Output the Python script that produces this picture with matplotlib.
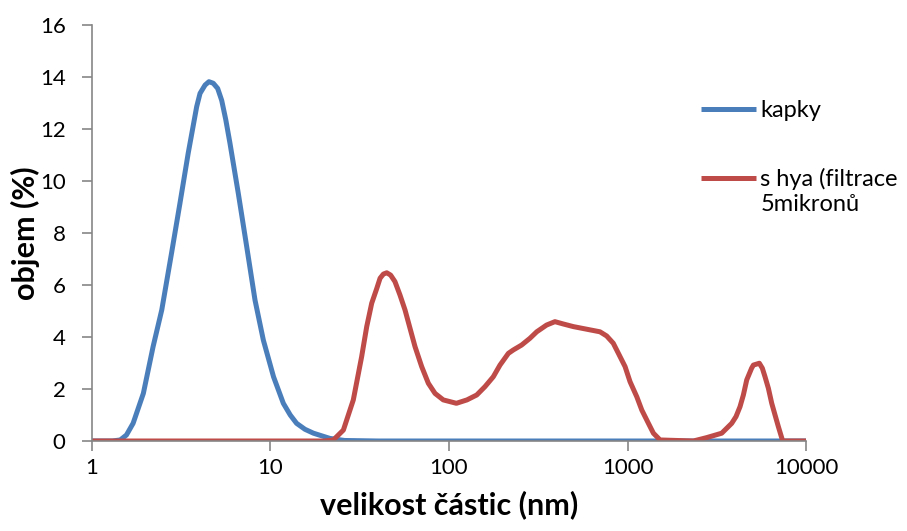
import numpy as np
import matplotlib.pyplot as plt
import matplotlib.ticker as ticker

plt.rcParams['font.family'] = ['Lato', 'DejaVu Sans']

# kapky (blue)
kapky_x = [1, 1.3, 1.44, 1.56, 1.70, 1.94, 2.20, 2.46, 2.79, 3.11, 3.46, 3.86, 4.03,
           4.30, 4.52, 4.78, 5.06, 5.33, 5.62, 5.93, 6.60, 7.36, 8.19, 9.12, 10.4,
           11.8, 12.9, 14.0, 15.6, 17.4, 21.5, 26, 40, 100, 1000, 10000]
kapky_y = [0, 0, 0.04, 0.23, 0.68, 1.83, 3.63, 5.04, 7.22, 9.14, 11.07, 12.86, 13.37,
           13.69, 13.82, 13.76, 13.56, 13.1, 12.35, 11.45, 9.53, 7.47, 5.42, 3.88, 2.47,
           1.45, 1.0, 0.68, 0.45, 0.30, 0.10, 0.02, 0, 0, 0, 0]

# s hya (red)
hya_x = [1, 10, 20, 22.5, 25.6, 29.1, 32.4, 34.6, 36.9, 39.4, 41.1, 42.9, 44.8, 47.1,
         49.8, 53.1, 56.7, 60.5, 64.5, 70.3, 76.6, 83.5, 92.9, 110, 126, 143, 159, 177,
         193, 215, 229, 255, 284, 310, 352, 392, 437, 497, 590, 701, 764, 832, 889,
         969, 1033, 1127, 1202, 1309, 1396, 1521, 2337, 2776, 3370, 3834, 4053, 4267,
         4456, 4653, 4955, 5070, 5474, 5690, 5891, 6150, 6423, 6703, 6998, 7397, 10000]
hya_y = [0, 0, 0, 0.04, 0.42, 1.58, 3.24, 4.40, 5.30, 5.87, 6.26, 6.42, 6.47, 6.38,
         6.13, 5.62, 5.04, 4.33, 3.63, 2.86, 2.22, 1.83, 1.58, 1.45, 1.58, 1.77, 2.09,
         2.47, 2.92, 3.37, 3.50, 3.69, 3.95, 4.20, 4.46, 4.59, 4.50, 4.40, 4.30, 4.20,
         4.04, 3.76, 3.37, 2.86, 2.28, 1.70, 1.19, 0.68, 0.30, 0.04, 0, 0.13, 0.30,
         0.68, 0.94, 1.32, 1.77, 2.35, 2.80, 2.92, 2.99, 2.80, 2.47, 2.03, 1.45, 1.0,
         0.55, 0, 0]

blue = '#4A7EBB'
red = '#BE4B48'
grey = '#868686'

fig = plt.figure(figsize=(9.07, 5.31), dpi=100)
ax = fig.add_axes([0.1014, 0.1695, 0.7873, 0.7834])

l1, = ax.plot(kapky_x, kapky_y, color=blue, lw=3.6, label='kapky',
              solid_joinstyle='round', solid_capstyle='butt')
l2, = ax.plot(hya_x, hya_y, color=red, lw=3.6, label='s hya (filtrace',
              solid_joinstyle='round', solid_capstyle='butt')

ax.set_xscale('log')
ax.set_xlim(1, 10000)
ax.set_ylim(0, 16)
ax.xaxis.set_major_locator(ticker.FixedLocator([1, 10, 100, 1000, 10000]))
ax.xaxis.set_major_formatter(ticker.FixedFormatter(['1', '10', '100', '1000', '10000']))
ax.xaxis.set_minor_locator(ticker.NullLocator())
ax.yaxis.set_major_locator(ticker.MultipleLocator(2))

for s in ['top', 'right']:
    ax.spines[s].set_visible(False)
for s in ['left', 'bottom']:
    ax.spines[s].set_color(grey)
    ax.spines[s].set_linewidth(1.2)
ax.tick_params(axis='both', colors=grey, labelcolor='black', labelsize=16,
               length=7, width=1.2, direction='out')
ax.tick_params(axis='x', pad=5)
ax.tick_params(axis='y', pad=12)

ax.set_xlabel('velikost částic (nm)', fontsize=22, fontweight='bold', labelpad=9)
ax.set_ylabel('objem (%)', fontsize=22, fontweight='bold', labelpad=0)

leg = fig.legend(handles=[l1, l2], loc='upper left', bbox_to_anchor=(0.749, 0.851),
                 frameon=False, fontsize=17, handlelength=2.33, handletextpad=0.2,
                 labelspacing=1.98)

# second line of the red legend label, placed right under the first one
fig.canvas.draw()
bb = leg.get_texts()[1].get_window_extent().transformed(fig.transFigure.inverted())
fig.text(bb.x0, bb.y0 - 0.008, '5mikronů', fontsize=17, ha='left', va='top')

fig.savefig('out.png', dpi=100)
